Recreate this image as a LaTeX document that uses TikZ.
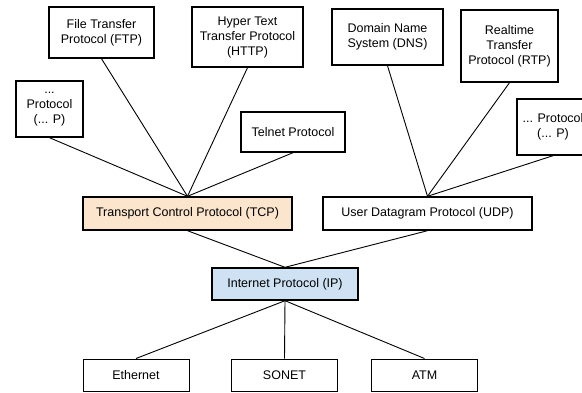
\documentclass[tikz,border=0pt]{standalone}
\usepackage{fontspec}
\setmainfont{Liberation Sans}
\definecolor{tcpfill}{HTML}{FCE5CD}
\definecolor{ipfill}{HTML}{CFE2F3}
\begin{document}
\begin{tikzpicture}[x=1pt,y=-1pt,
    box/.style={draw,line width=1.4pt,align=center,inner sep=1pt,
      font=\fontsize{12.5}{15}\selectfont},
    netbox/.style={box,line width=1pt,minimum width=106pt,minimum height=32pt},
    link/.style={line width=0.9pt}]
  \useasboundingbox (0,0) rectangle (582,392);
  % application protocols
  \node[box,minimum width=67pt,minimum height=56pt] (lp) at (49.5,109) {...\\Protocol\\(... P)};
  \node[box,minimum width=105pt,minimum height=51pt] (ftp) at (101.5,32.5) {File Transfer\\Protocol (FTP)};
  \node[box,minimum width=111pt,minimum height=60pt] (http) at (247.5,37) {Hyper Text\\Transfer Protocol\\(HTTP)};
  \node[box,minimum width=104pt,minimum height=40pt] (telnet) at (293,132) {Telnet Protocol};
  \node[box,minimum width=111pt,minimum height=56pt] (dns) at (387.5,37) {Domain Name\\System (DNS)};
  \node[box,minimum width=97pt,minimum height=72pt] (rtp) at (509.5,46) {Realtime\\Transfer\\Protocol (RTP)};
  \node[box,minimum width=72pt,minimum height=56pt] (rp) at (553,127) {... Protocol\\(... P)};
  % transport and internet layer
  \node[box,fill=tcpfill,minimum width=209pt,minimum height=33pt] (tcp) at (187.5,213.5) {Transport Control Protocol (TCP)};
  \node[box,minimum width=209pt,minimum height=33pt] (udp) at (427.5,213.5) {User Datagram Protocol (UDP)};
  \node[box,fill=ipfill,minimum width=146pt,minimum height=32pt] (ip) at (285,284) {Internet Protocol (IP)};
  \foreach \n in {lp,ftp,http,telnet}{
    \draw[link] (\n.south) -- (tcp.north);
  }
  \foreach \n in {dns,rtp,rp}{
    \draw[link] (\n.south) -- (udp.north);
  }
  \draw[link] (tcp.south) -- (ip.north) (udp.south) -- (ip.north);
  % link layer
  \foreach \n/\t/\x in {eth/Ethernet/136, sonet/SONET/284.5, atm/ATM/424.5}{
    \node[netbox] (\n) at (\x,375) {\t};
    \draw[link] (ip.south) -- (\n.north);
  }
\end{tikzpicture}
\end{document}
